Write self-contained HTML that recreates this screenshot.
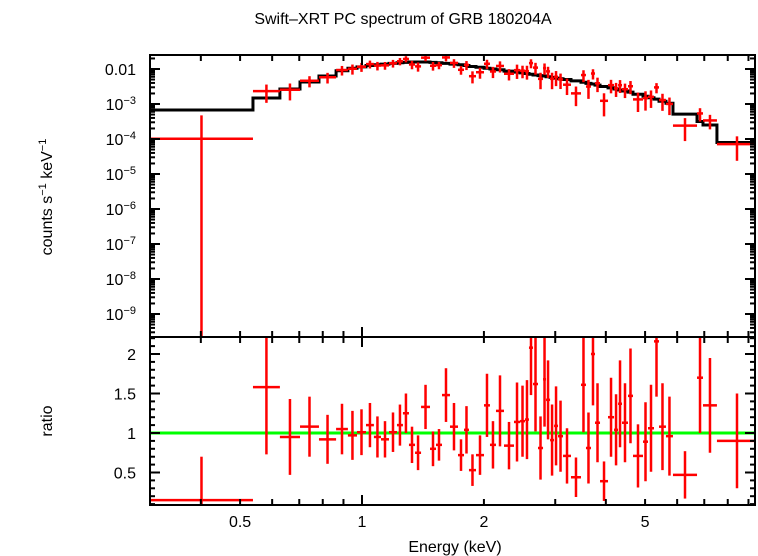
<!DOCTYPE html>
<html><head><meta charset="utf-8"><style>
html,body{margin:0;padding:0;background:#fff;}
svg{display:block;font-family:"Liberation Sans",sans-serif;}
</style></head><body>
<svg id="chart" width="758" height="556" viewBox="0 0 758 556">
<text x="403" y="24" font-size="16" text-anchor="middle">Swift–XRT PC spectrum of GRB 180204A</text>
<text transform="translate(52,197) rotate(-90)" font-size="16" text-anchor="middle">counts s<tspan baseline-shift="super" font-size="11">−1</tspan> keV<tspan baseline-shift="super" font-size="11">−1</tspan></text>
<text transform="translate(52,421) rotate(-90)" font-size="16" text-anchor="middle">ratio</text>
<text x="455" y="552" font-size="16" text-anchor="middle">Energy (keV)</text>
<g id="topPanel"></g>
<g id="botPanel"></g>
<g id="axes"></g>
</svg>
<script>
// bin edges (keV)
const binLo = [0.2996,0.538,0.627,0.703,0.783,0.863,0.923,0.972,1.023,1.070,1.114,1.166,1.220,1.262,1.306,1.352,1.399,1.472,1.523,1.576,1.649,1.726,1.786,1.837,1.912,2.001,2.070,2.142,2.242,2.373,2.456,2.526,2.584,2.644,2.720,2.799,2.847,2.913,2.980,3.048,3.136,3.281,3.473,3.573,3.676,3.761,3.870,4.050,4.191,4.288,4.385,4.537,4.668,4.941,5.084,5.260,5.412,5.630,5.859,6.718,6.950,7.523];
const binHi = [0.538,0.627,0.703,0.783,0.863,0.923,0.972,1.023,1.070,1.114,1.166,1.220,1.262,1.306,1.352,1.399,1.472,1.523,1.576,1.649,1.726,1.786,1.837,1.912,2.001,2.070,2.142,2.242,2.373,2.456,2.526,2.584,2.644,2.720,2.799,2.847,2.913,2.980,3.048,3.136,3.281,3.473,3.573,3.676,3.761,3.870,4.050,4.191,4.288,4.385,4.537,4.668,4.941,5.084,5.260,5.412,5.630,5.859,6.718,6.950,7.523,9.45];
// data/model ratio
const ratio = [0.15,1.58,0.95,1.08,0.92,1.05,0.97,1.01,1.10,0.95,0.92,1.01,1.10,1.25,0.85,0.75,1.33,0.80,0.85,1.48,1.08,0.72,1.04,0.53,0.72,1.35,0.85,1.28,0.84,1.14,1.15,1.17,2.08,1.62,0.81,1.68,1.42,0.91,1.09,0.96,0.71,0.44,1.61,0.81,2.00,1.13,0.39,1.20,1.04,1.37,1.13,1.47,0.71,0.89,1.06,2.16,1.08,0.96,0.47,1.70,1.35,0.90];
const ratioErr = [0.55,0.85,0.48,0.38,0.31,0.32,0.31,0.29,0.28,0.26,0.23,0.25,0.26,0.25,0.23,0.22,0.28,0.22,0.2,0.34,0.3,0.2,0.3,0.2,0.25,0.4,0.3,0.45,0.3,0.5,0.45,0.5,0.6,0.6,0.4,0.6,0.5,0.45,0.5,0.45,0.35,0.25,0.6,0.45,0.65,0.5,0.25,0.5,0.45,0.55,0.5,0.6,0.4,0.5,0.55,0.7,0.55,0.5,0.3,0.7,0.6,0.6];
// model (log10 counts/s/keV) per bin
const modelLog = [-3.17,-2.83,-2.57,-2.37,-2.2,-2.05,-1.98,-1.94,-1.9,-1.88,-1.86,-1.84,-1.82,-1.81,-1.8,-1.8,-1.8,-1.81,-1.82,-1.84,-1.86,-1.88,-1.9,-1.93,-1.95,-1.98,-2.0,-2.02,-2.06,-2.09,-2.11,-2.13,-2.15,-2.17,-2.19,-2.2,-2.22,-2.24,-2.26,-2.28,-2.3,-2.34,-2.38,-2.41,-2.43,-2.46,-2.5,-2.54,-2.57,-2.6,-2.63,-2.66,-2.72,-2.78,-2.82,-2.86,-2.92,-2.98,-3.29,-3.5,-3.6,-4.1];
const xTickMajor = [0.5,1,2,5];
const xTickLabels = ["0.5","1","2","5"];
const xTickMinor = [0.4,0.6,0.7,0.8,0.9,3,4,6,7,8,9];
const yTopDecades = [-2,-3,-4,-5,-6,-7,-8,-9];
const yTopLabels = ["0.01","10|−3","10|−4","10|−5","10|−6","10|−7","10|−8","10|−9"];
const yBotTicks = [0.5,1,1.5,2];
const yBotLabels = ["0.5","1","1.5","2"];

const L=150,R=755,T=55,M=337,B=505;
const X = e => 362 + 405*Math.log10(e);
const YT = lg => 69 + (-2 - lg)*35;
const YB = r => 433 - (r-1)*79;
const NS="http://www.w3.org/2000/svg";
function mk(p,tag,a){const el=document.createElementNS(NS,tag);for(const k in a)el.setAttribute(k,a[k]);p.appendChild(el);return el;}
const topG=document.getElementById('topPanel'),botG=document.getElementById('botPanel'),axes=document.getElementById('axes');
const clipT=v=>Math.max(T,Math.min(M,v)), clipB=v=>Math.max(M,Math.min(B,v));
const N=Math.min(binLo.length,binHi.length,ratio.length,ratioErr.length,modelLog.length);

// model step
let d="";
for(let i=0;i<N;i++){const x1=Math.max(L,X(binLo[i])),x2=Math.min(R,X(binHi[i])),y=YT(modelLog[i]);d+=(i?"L":"M")+x1+","+y+"L"+x2+","+y;}
const mp=mk(topG,'path',{d:d,fill:'none',stroke:'#000','stroke-width':3});



// green unity line
const gl=mk(botG,'line',{x1:L,x2:R,y1:YB(1),y2:YB(1),stroke:'#00ff00','stroke-width':3});



for(let i=0;i<N;i++){
  const x1=Math.max(L,X(binLo[i])),x2=Math.min(R,X(binHi[i])),xc=X(Math.sqrt(binLo[i]*binHi[i]));
  const m=Math.pow(10,modelLog[i]);
  const c=m*ratio[i],lo=m*(ratio[i]-ratioErr[i]),hi=m*(ratio[i]+ratioErr[i]);
  const yc=YT(Math.log10(c)),yhi=clipT(YT(Math.log10(hi))),ylo=lo>0?clipT(YT(Math.log10(lo))):M;
  const g=mk(topG,'g',{stroke:'#ff0000','stroke-width':2.5});
  
  
  mk(g,'line',{x1:x1,x2:x2,y1:yc,y2:yc});
  mk(g,'line',{x1:xc,x2:xc,y1:yhi,y2:ylo});
  const g2=mk(botG,'g',{stroke:'#ff0000','stroke-width':2.5});
  
  
  const yr=YB(ratio[i]);
  mk(g2,'line',{x1:x1,x2:x2,y1:yr,y2:yr});
  mk(g2,'line',{x1:xc,x2:xc,y1:clipB(YB(ratio[i]+ratioErr[i])),y2:clipB(YB(ratio[i]-ratioErr[i]))});
}

// frame
const fr=mk(axes,'rect',{x:L,y:T,width:R-L,height:B-T,fill:'none',stroke:'#000','stroke-width':2});


const dv=mk(axes,'line',{x1:L,x2:R,y1:M,y2:M,stroke:'#000','stroke-width':2});



function tick(x1,y1,x2,y2){mk(axes,'line',{x1:x1,y1:y1,x2:x2,y2:y2,stroke:'#000','stroke-width':2});}
// x ticks
[...xTickMajor,...xTickMinor].forEach(e=>{const x=X(e);if(x<L||x>R)return;const len=(e===1)?10:6;
  [T,M,B].forEach(yy=>{ if(yy!==T) tick(x,yy,x,yy-len); if(yy!==B) tick(x,yy,x,yy+len);});});
xTickMajor.forEach((e,i)=>{const t=mk(axes,'text',{x:X(e),y:527,'font-size':16,'text-anchor':'middle'});t.textContent=xTickLabels[i];
  
  });
// top y ticks
for(let dd=-10;dd<=-1;dd++){for(let k=1;k<10;k++){const lg=dd+Math.log10(k);const y=YT(lg);if(y<T||y>M)continue;const len=k===1?10:5;tick(L,y,L+len,y);tick(R,y,R-len,y);}}
yTopDecades.forEach((lg,i)=>{const t=mk(axes,'text',{x:136,y:YT(lg)+6,'font-size':16,'text-anchor':'end'});
  const parts=yTopLabels[i].split('|');
  if(parts.length===1)t.textContent=parts[0];
  else{t.appendChild(document.createTextNode(parts[0]));const s=mk(t,'tspan',{'baseline-shift':'super','font-size':11});s.textContent=parts[1];}
  
  });
// bottom y ticks
for(let r=0.1;r<2.25;r+=0.1){const y=YB(r);if(y<M||y>B)continue;const maj=Math.abs(r*2-Math.round(r*2))<1e-6;const len=maj?10:5;tick(L,y,L+len,y);tick(R,y,R-len,y);}
yBotTicks.forEach((r,i)=>{const t=mk(axes,'text',{x:136,y:YB(r)+6,'font-size':16,'text-anchor':'end'});t.textContent=yBotLabels[i];
  
  });
</script>
</body></html>
